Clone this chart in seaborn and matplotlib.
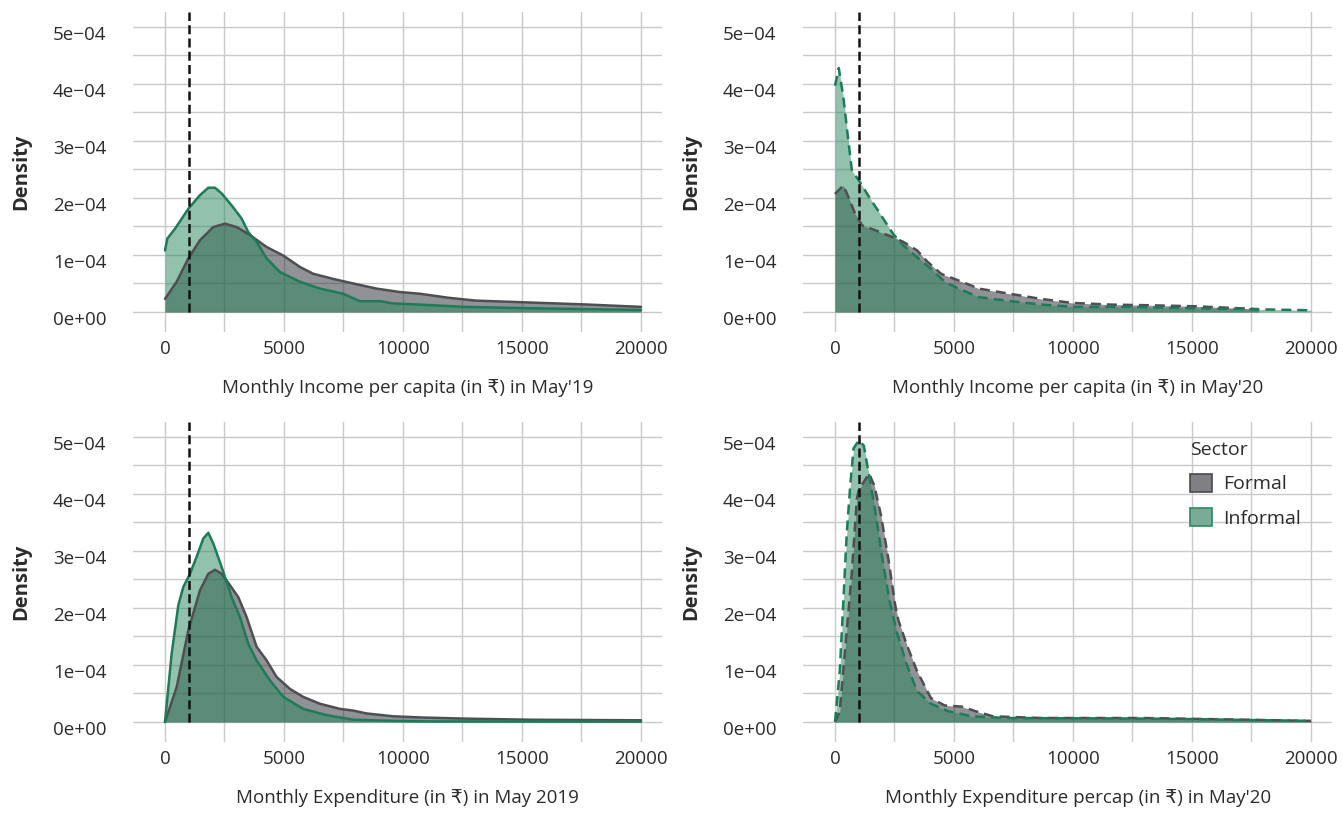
import numpy as np
import pandas as pd
import seaborn as sns
import matplotlib.pyplot as plt
import matplotlib.transforms as mtransforms
from matplotlib.patches import Patch
from matplotlib.ticker import MultipleLocator, FuncFormatter

# densities below in units of 1e-4
SCALE = 1e-4

# --- top left: income per capita, May'19 ---
inc19_formal_x = [0, 490, 980, 1470, 2030, 2520, 3010, 3570, 4270, 4970, 5670, 6230, 7070,
                  7910, 8890, 9870, 10710, 11900, 13050, 15400, 17500, 20000]
inc19_formal_y = [0.23, 0.53, 0.94, 1.26, 1.49, 1.55, 1.49, 1.35, 1.14, 0.99, 0.79, 0.67, 0.58,
                  0.50, 0.41, 0.35, 0.32, 0.25, 0.20, 0.165, 0.135, 0.09]
inc19_informal_x = [0, 100, 420, 980, 1470, 1820, 2100, 2380, 2800, 3220, 3500, 3850, 4270, 4830,
                    5670, 6510, 7490, 8190, 9030, 9590, 10710, 12600, 15400, 18200, 20000]
inc19_informal_y = [1.08, 1.29, 1.46, 1.81, 2.05, 2.18, 2.18, 2.08, 1.87, 1.64, 1.40, 1.23, 0.94,
                    0.70, 0.53, 0.41, 0.32, 0.19, 0.19, 0.15, 0.13, 0.09, 0.065, 0.047, 0.035]

# --- top right: income per capita, May'20 ---
inc20_formal_x = [0, 350, 560, 850, 1140, 1720, 2440, 2870, 3450, 3890, 4460, 5330, 6050, 7200,
                  8650, 9950, 11540, 12980, 15150, 17320, 17800]
inc20_formal_y = [2.07, 2.22, 2.02, 1.72, 1.52, 1.43, 1.31, 1.23, 1.08, 0.88, 0.67, 0.53, 0.41,
                  0.33, 0.23, 0.16, 0.13, 0.12, 0.10, 0.06, 0.05]
inc20_informal_x = [0, 160, 350, 560, 710, 1000, 1430, 1930, 2440, 2870, 3450, 4030, 4610, 5040,
                    6050, 7200, 8650, 10100, 12400, 14430, 17320, 20000]
inc20_informal_y = [3.97, 4.28, 3.77, 3.01, 2.48, 2.31, 2.02, 1.70, 1.37, 1.17, 0.96, 0.76, 0.53,
                    0.44, 0.26, 0.20, 0.13, 0.09, 0.09, 0.07, 0.05, 0.03]

# --- bottom left: expenditure, May 2019 ---
exp19_formal_x = [0, 490, 980, 1470, 1820, 2100, 2380, 2730, 3080, 3430, 3850, 4270, 4690, 5250,
                  5810, 6510, 7350, 7910, 8470, 9590, 10710, 12530, 15340, 20000]
exp19_formal_y = [0, 0.61, 1.61, 2.31, 2.60, 2.67, 2.60, 2.40, 2.19, 1.84, 1.32, 1.08, 0.79, 0.58,
                  0.44, 0.32, 0.23, 0.20, 0.15, 0.10, 0.08, 0.06, 0.04, 0.03]
exp19_informal_x = [0, 280, 560, 770, 1050, 1330, 1610, 1820, 2030, 2380, 2800, 3150, 3500, 3850,
                    4410, 4970, 5810, 6790, 7910, 9590, 10710, 20000]
exp19_informal_y = [0, 1.20, 2.05, 2.37, 2.60, 2.90, 3.22, 3.32, 3.13, 2.72, 2.19, 1.84, 1.37,
                    1.08, 0.73, 0.44, 0.23, 0.12, 0.04, 0.02, 0.012, 0.005]

# --- bottom right: expenditure per capita, May'20 ---
exp20_formal_x = [0, 200, 420, 710, 920, 1000, 1210, 1430, 1650, 1930, 2240, 2530, 2660, 3020,
                  3450, 4030, 4610, 5330, 5900, 6630, 8650, 12980, 17320, 20000]
exp20_formal_y = [0, 0.19, 1.24, 2.64, 3.92, 4.07, 4.21, 4.36, 4.15, 3.63, 2.87, 2.05, 1.79, 1.35,
                  0.89, 0.42, 0.29, 0.27, 0.19, 0.10, 0.07, 0.07, 0.04, 0.02]
exp20_informal_x = [0, 200, 350, 490, 640, 780, 1000, 1210, 1430, 1720, 2010, 2300, 2590, 3020,
                    3450, 4030, 4750, 5760, 7200, 12980, 15150, 17320, 20000]
exp20_informal_y = [0, 0.89, 2.11, 3.28, 4.15, 4.80, 4.94, 4.85, 4.33, 3.63, 2.81, 2.11, 1.59,
                    1.00, 0.54, 0.32, 0.19, 0.10, 0.07, 0.06, 0.05, 0.035, 0.02]

x_labels = ["Monthly Income per capita (in \u20b9) in May'19",
            "Monthly Income per capita (in \u20b9) in May'20",
            "Monthly Expenditure (in \u20b9) in May 2019",
            "Monthly Expenditure percap (in \u20b9) in May'20"]
sectors = ["Formal", "Informal"]
poverty_line = 1000

FORMAL_FILL, INFORMAL_FILL = "#25272f", "#27855d"
FORMAL_LINE, INFORMAL_LINE = "#4f4f52", "#1d7b59"
GRID = "#c9c9c9"
TEXT = "#2b2b2b"

sns.set_style("white")
plt.rcParams["font.family"] = ["Open Sans", "DejaVu Sans"]
plt.rcParams["text.color"] = TEXT

fig = plt.figure(figsize=(13.43, 8.13), dpi=100)

W, H = 1343, 813
# axes boxes in pixels: left, top, right, bottom
boxes = [(132.7, 12, 661.7, 332), (802.7, 12, 1331.7, 332),
         (132.7, 422, 661.7, 742), (802.7, 422, 1331.7, 742)]

series = [
    (inc19_formal_x, inc19_formal_y, inc19_informal_x, inc19_informal_y, "-"),
    (inc20_formal_x, inc20_formal_y, inc20_informal_x, inc20_informal_y, (0, (4, 2.4))),
    (exp19_formal_x, exp19_formal_y, exp19_informal_x, exp19_informal_y, "-"),
    (exp20_formal_x, exp20_formal_y, exp20_informal_x, exp20_informal_y, (0, (4, 2.4))),
]

YMIN, YMAX = -0.351e-4, 5.263e-4


def sci_fmt(v, pos):
    return f"{v:.0e}".replace("-", "\u2212")


# tick labels on y sit a little under their grid line, as in the original
down = mtransforms.ScaledTranslation(0, -4 / 72, fig.dpi_scale_trans)

axes = []
for (l, t, r, b), (fx, fy, ix, iy, ls), xlab in zip(boxes, series, x_labels):
    ax = fig.add_axes([l / W, 1 - b / H, (r - l) / W, (b - t) / H])
    axes.append(ax)

    fy = np.array(fy) * SCALE
    iy = np.array(iy) * SCALE
    # filled density areas
    ax.fill_between(fx, fy, 0, color=FORMAL_FILL, alpha=0.5, linewidth=0, zorder=2)
    ax.fill_between(ix, iy, 0, color=INFORMAL_FILL, alpha=0.5, linewidth=0, zorder=2)
    # outlines on top
    sns.lineplot(x=fx, y=fy, ax=ax, color=FORMAL_LINE, linewidth=1.8, linestyle=ls,
                 sort=False, legend=False, zorder=3)
    sns.lineplot(x=ix, y=iy, ax=ax, color=INFORMAL_LINE, linewidth=1.8, linestyle=ls,
                 sort=False, legend=False, zorder=3)
    # poverty line
    ax.vlines(poverty_line, 0, YMAX, colors="#111111", linestyles=(0, (3.6, 1.7)),
              linewidth=1.8, zorder=4)

    ax.set_xlim(-1357, 20870)
    ax.set_ylim(YMIN, YMAX)
    ax.xaxis.set_major_locator(MultipleLocator(5000))
    ax.xaxis.set_minor_locator(MultipleLocator(2500))
    ax.yaxis.set_major_locator(MultipleLocator(1e-4))
    ax.yaxis.set_minor_locator(MultipleLocator(0.5e-4))
    ax.yaxis.set_major_formatter(FuncFormatter(sci_fmt))
    ax.grid(True, which="both", color=GRID, linewidth=1.0, zorder=0)
    ax.set_axisbelow(True)
    for s in ax.spines.values():
        s.set_visible(False)
    ax.tick_params(which="both", length=0, labelsize=13.5, labelcolor=TEXT)
    ax.tick_params(axis="y", pad=19)
    ax.tick_params(axis="x", pad=6)
    for lab in ax.get_yticklabels():
        lab.set_transform(lab.get_transform() + down)

    ax.set_xlabel(xlab, fontsize=13.5, color=TEXT)
    ax.xaxis.label.set_va("center")
    ax.xaxis.set_label_coords(0.52, -0.175)
    ax.set_ylabel("Density", fontsize=14.5, fontweight="bold", color=TEXT)
    ax.yaxis.label.set_va("center")
    ax.yaxis.set_label_coords(-0.211, 0.5)

# legend inside the last panel
handles = [Patch(facecolor="#7f7f84", edgecolor="#4a4a4d", linewidth=1.2, label=sectors[0]),
           Patch(facecolor="#7aab96", edgecolor="#2a8a62", linewidth=1.2, label=sectors[1])]
axes[3].legend(handles=handles, title="Sector", loc="upper left",
               bbox_to_anchor=(0.732, 0.94), frameon=False, alignment="left",
               fontsize=14, title_fontsize=14, handlelength=1.15, handleheight=1.05,
               handletextpad=0.55, labelspacing=0.75, borderpad=0, borderaxespad=0)

fig.savefig("out.png", dpi=100)
